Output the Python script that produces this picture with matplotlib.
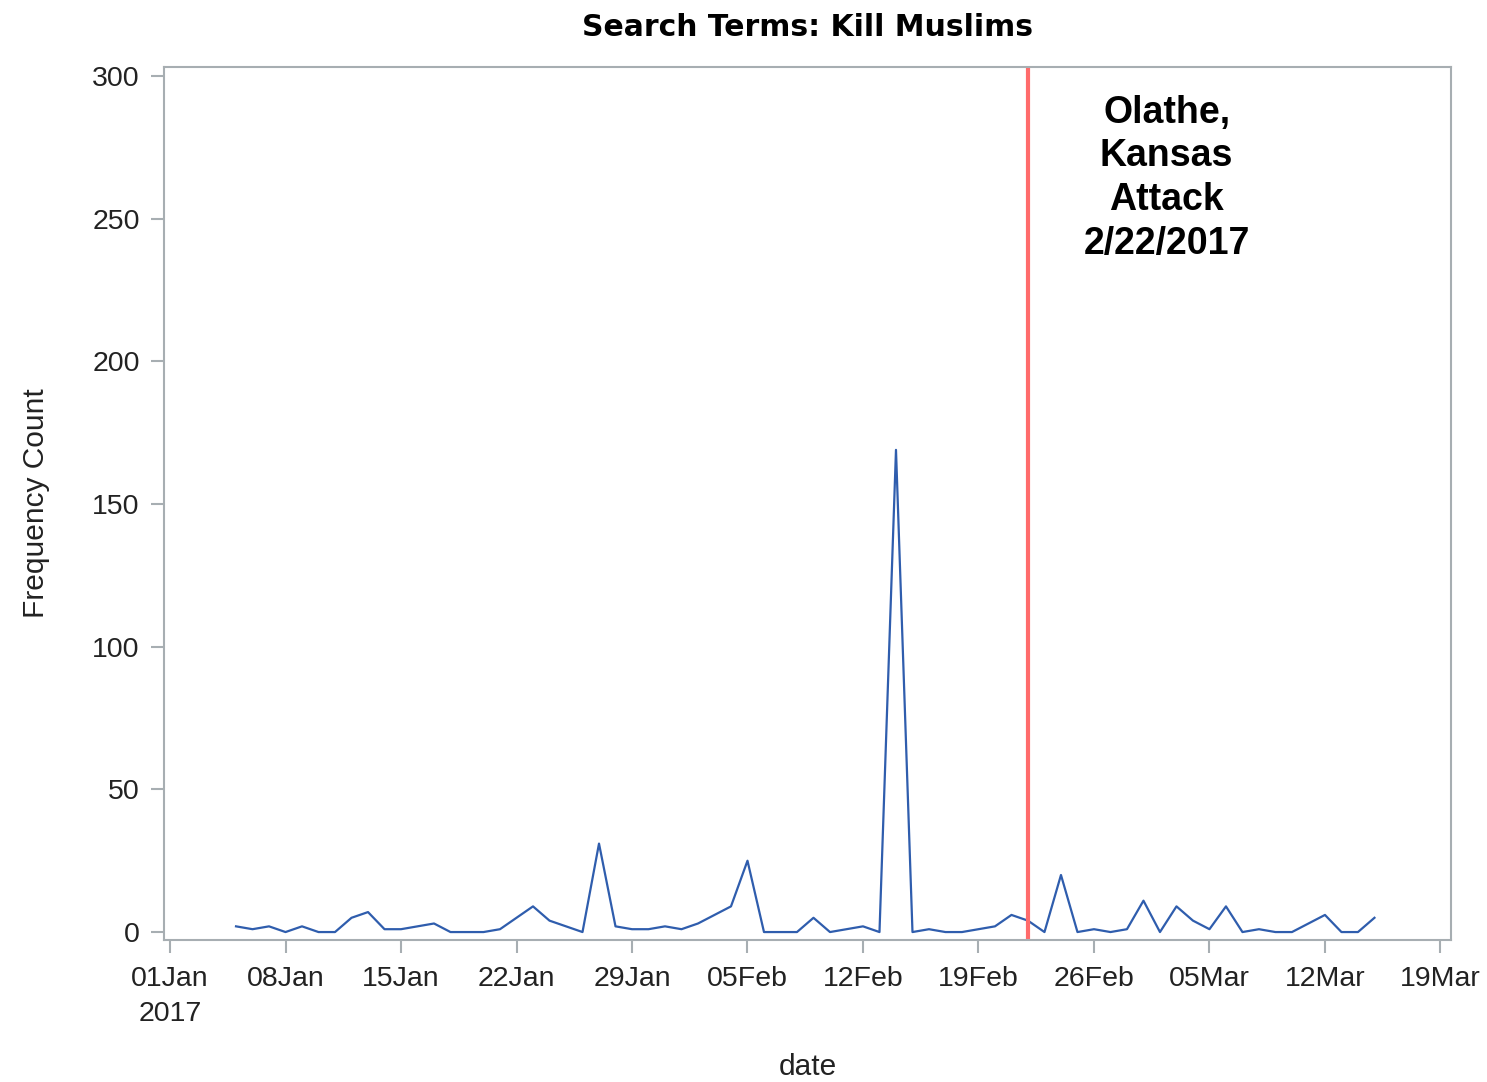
import matplotlib
matplotlib.use("Agg")
from matplotlib import pyplot as plt
import matplotlib.dates as mdates
import numpy as np
import datetime as dt

# daily counts, 05Jan2017 .. 15Mar2017
start_day = dt.date(2017, 1, 5)
counts = [2, 1, 2, 0, 2, 0, 0, 5, 7, 1,      # 05Jan - 14Jan
          1, 2, 3, 0, 0, 0, 1, 5, 9, 4,      # 15Jan - 24Jan
          2, 0, 31, 2, 1, 1, 2, 1, 3, 6,     # 25Jan - 03Feb
          9, 25, 0, 0, 0, 5, 0, 1, 2, 0,     # 04Feb - 13Feb
          169, 0, 1, 0, 0, 1, 2, 6, 4, 0,    # 14Feb - 23Feb
          20, 0, 1, 0, 1, 11, 0, 9, 4, 1,    # 24Feb - 05Mar
          9, 0, 1, 0, 0, 3, 6, 0, 0, 5]      # 06Mar - 15Mar
dates = [start_day + dt.timedelta(days=i) for i in range(len(counts))]

attack_day = dt.date(2017, 2, 22)
attack_text = "Olathe,\nKansas\nAttack\n2/22/2017"

tick_days = [dt.date(2017, 1, 1) + dt.timedelta(days=7 * i) for i in range(12)]
tick_labels = ["01Jan\n2017", "08Jan", "15Jan", "22Jan", "29Jan", "05Feb",
               "12Feb", "19Feb", "26Feb", "05Mar", "12Mar", "19Mar"]
y_ticks = [0, 50, 100, 150, 200, 250, 300]

plt.rcParams['font.family'] = ['Liberation Sans', 'DejaVu Sans']

fig = plt.figure(figsize=(14.87, 10.82), dpi=100)
ax = fig.add_axes([0.1103, 0.1312, 0.8655, 0.8069])

ax.plot(dates, counts, color='#2F5DAD', lw=1.6)
ax.axvline(attack_day, color='#FF6B6B', lw=3)
ax.text(0.779, 0.968, attack_text, transform=ax.transAxes, ha='center', va='top',
        fontsize=27, fontweight='bold', linespacing=1.27)

d0 = mdates.date2num(dt.date(2017, 1, 1))
ax.set_xlim(d0 - 0.364, d0 + 77.64)
ax.set_ylim(-2.8, 303.2)
ax.set_xticks(tick_days)
ax.set_xticklabels(tick_labels, linespacing=1.45)
ax.set_yticks(y_ticks)

for s in ax.spines.values():
    s.set_color('#A7AEB2')
    s.set_linewidth(1.5)
ax.tick_params(colors='#A7AEB2', length=9.5, width=1.5, labelcolor='#222222',
               labelsize=20.5)
ax.tick_params(axis='y', pad=8)
ax.tick_params(axis='x', pad=9)

ax.set_title("Search Terms: Kill Muslims", fontsize=21.5, fontweight='bold',
             family='DejaVu Sans', pad=22)
ax.set_ylabel("Frequency Count", fontsize=21.5, color='#222222', labelpad=30)
ax.set_xlabel("date", fontsize=21.5, color='#222222', labelpad=19)

fig.savefig("out.png", dpi=100)
